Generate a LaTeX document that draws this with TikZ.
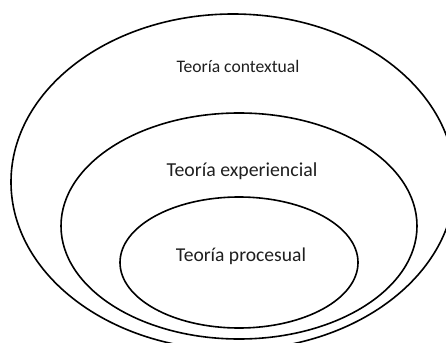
\documentclass[tikz,border=0pt]{standalone}
\usepackage{fontspec}
\setmainfont{Carlito}
\usetikzlibrary{shapes.geometric}
\begin{document}
\begin{tikzpicture}[x=1pt,y=-1pt,
  ring/.style={draw=black,line width=1.6pt,ellipse,inner sep=0pt,outer sep=0pt},
  lbl/.style={anchor=base,text=black!88,inner sep=0pt}]
\useasboundingbox (0,0) rectangle (446,342);
\clip (0,0) rectangle (446,342);
\fill[white] (0,0) rectangle (446,342);
\node[ring,minimum width=444pt,minimum height=336pt] (outer) at (233,182) {};
\node[ring,minimum width=356pt,minimum height=226pt] (middle) at (239,226) {};
\node[ring,minimum width=238pt,minimum height=131pt] (inner) at (239,262.5) {};
\node[lbl,font=\fontsize{17.6}{20}\selectfont] (tc) at (238,72.7) {Teoría contextual};
\node[lbl,font=\fontsize{19.8}{22}\selectfont] (te) at (242,176) {Teoría experiencial};
\node[lbl,font=\fontsize{19.6}{22}\selectfont] (tp) at (241,261.7) {Teoría procesual};
\end{tikzpicture}
\end{document}
